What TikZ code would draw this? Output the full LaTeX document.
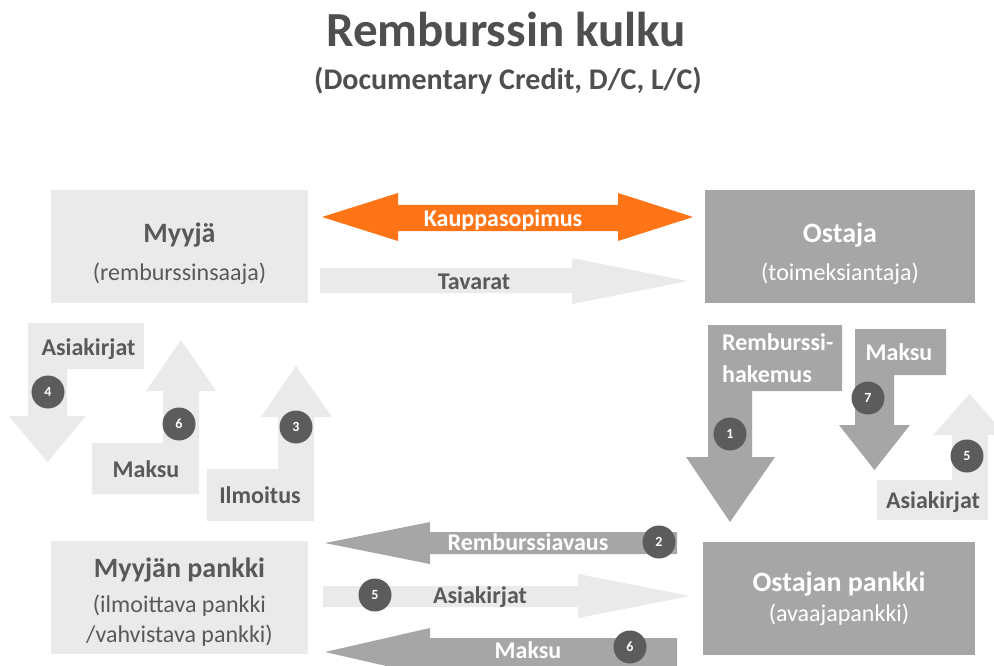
\documentclass[tikz,border=0pt]{standalone}
\usepackage{fontspec}
\setmainfont{Carlito}
\usetikzlibrary {positioning}
\definecolor{paleGray}{HTML}{EAEAEA}
\definecolor{midGray}{HTML}{A6A6A6}
\definecolor{inkGray}{HTML}{595959}
\definecolor{titleGray}{HTML}{4F4F4F}
\definecolor{dotGray}{HTML}{5C5C5C}
\definecolor{dealOrange}{HTML}{FF7417}
\tikzset{
boxP/.style={rectangle,inner sep=0pt,minimum width=257pt,minimum height=113pt,fill=paleGray}
}
\tikzset{
boxM/.style={rectangle,inner sep=0pt,minimum width=271pt,minimum height=113pt,fill=midGray}
}
\tikzset{
headD/.style={inner sep=0pt,anchor=base,text=inkGray,font=\bfseries\fontsize{28}{32}\selectfont},
headW/.style={headD,text=white}
}
\tikzset{
subD/.style={inner sep=0pt,anchor=base,text=inkGray,font=\fontsize{24}{30}\selectfont},
subW/.style={subD,text=white}
}
\tikzset{
lblD/.style={inner sep=0pt,anchor=base,text=inkGray,font=\bfseries\fontsize{24}{32}\selectfont},
lblW/.style={lblD,text=white}
}
\tikzset{
badge/.style={circle,fill=dotGray,minimum size=33pt,inner sep=0pt,text=white,font=\bfseries\fontsize{14}{16}\selectfont}
}

\begin{document}
\begin{tikzpicture}[x=1pt,y=-1pt]
\useasboundingbox (0,0) rectangle (994,666);
\clip (0,0) rectangle (994,666);

\node[inner sep=0pt,anchor=base,text=titleGray,font=\bfseries\fontsize{49}{54}\selectfont] (title) at (506,47) {Remburssin kulku};
\node[inner sep=0pt,anchor=base,text=titleGray,font=\bfseries\fontsize{30}{34}\selectfont] (subtitle) at (508,90) {(Documentary Credit, D/C, L/C)};
%------------------------------------------------------------------------------------------------------------%
\node[boxP] (myyja) at (179.5,246.5) {};
\node[headD] (myyjaA) at (myyja.center |- 0,242) {Myyjä};
\node[subD] (myyjaB) at (myyja.center |- 0,280) {(remburssinsaaja)};

\node[boxM,minimum width=270pt] (ostaja) at (840,246.5) {};
\node[headW] (ostajaA) at (ostaja.center |- 0,242) {Ostaja};
\node[subW] (ostajaB) at (ostaja.center |- 0,280) {(toimeksiantaja)};

\node[boxP] (myyjanPankki) at (179.5,597.5) {};
\node[headD] (myyjanPankkiA) at (myyjanPankki.center |- 0,577) {Myyjän pankki};
\node[subD] (myyjanPankkiB) at (myyjanPankki.center |- 0,612) {(ilmoittava pankki};
\node[subD] (myyjanPankkiC) at (myyjanPankki.center |- 0,642) {/vahvistava pankki)};

\node[boxM,minimum width=272pt] (ostajanPankki) at (839,598) {};
\node[headW] (ostajanPankkiA) at (ostajanPankki.center |- 0,591) {Ostajan pankki};
\node[subW] (ostajanPankkiB) at (ostajanPankki.center |- 0,621) {(avaajapankki)};
%------------------------------------------------------------------------------------------------------------%
\fill[dealOrange] (322,217) -- (398,193) -- (398,205) -- (618,205) -- (618,193) -- (693,217) -- (618,241) -- (618,231) -- (398,231) -- (398,241) -- cycle;
\node[lblW] (kauppa) at (503,226) {Kauppasopimus};

\fill[paleGray] (320,268) -- (572,268) -- (572,258) -- (688,281) -- (572,304) -- (572,293) -- (320,293) -- cycle;
\node[lblD] (tavarat) at (474,289) {Tavarat};
%------------------------------------------------------------------------------------------------------------%
\fill[paleGray] (28,323) -- (144,323) -- (144,369) -- (67,369) -- (67,416) -- (86,416) -- (47.5,462) -- (9,416) -- (28,416) -- cycle;
\node[lblD] (asiakirjatA) at (88.5,355) {Asiakirjat};
\node[badge] (b4) at (48,392) {4};

\fill[paleGray] (92,494) -- (92,443) -- (163,443) -- (163,391) -- (146,391) -- (181,340) -- (216,391) -- (199,391) -- (199,494) -- cycle;
\node[lblD] (maksuA) at (146,477) {Maksu};
\node[badge] (b6a) at (179,424) {6};

\fill[paleGray] (207,521) -- (207,469) -- (278,469) -- (278,417) -- (261,417) -- (296,366) -- (332,417) -- (314,417) -- (314,521) -- cycle;
\node[lblD] (ilmoitus) at (260,503) {Ilmoitus};
\node[badge] (b3) at (296,427) {3};
%------------------------------------------------------------------------------------------------------------%
\fill[midGray] (708,325) -- (842,325) -- (842,391) -- (752,391) -- (752,457) -- (775,457) -- (730,522) -- (686,457) -- (708,457) -- cycle;
\node[lblW,anchor=west,align=left] (hakemus) at (722,358) {Remburssi-\\hakemus};
\node[badge] (b1) at (730,434) {1};

\fill[midGray] (855,329) -- (946,329) -- (946,375) -- (894,375) -- (894,425) -- (910,425) -- (874.5,470) -- (839,425) -- (855,425) -- cycle;
\node[lblW] (maksuB) at (899,360) {Maksu};
\node[badge] (b7) at (868,398) {7};

\fill[paleGray] (877,520) -- (877,480) -- (952,480) -- (952,435) -- (933,435) -- (969.5,394) -- (1006,435) -- (988,435) -- (988,520) -- cycle;
\node[lblD] (asiakirjatB) at (933,508) {Asiakirjat};
\node[badge] (b5a) at (967,456) {5};
%------------------------------------------------------------------------------------------------------------%
\fill[midGray] (677,532) -- (430,532) -- (430,522) -- (325,543) -- (430,564) -- (430,554) -- (677,554) -- cycle;
\node[lblW] (avaus) at (528,550) {Remburssiavaus};
\node[badge] (b2) at (659,542) {2};

\fill[paleGray] (323,586) -- (578,586) -- (578,574) -- (690,596) -- (578,618) -- (578,607) -- (323,607) -- cycle;
\node[lblD] (asiakirjatC) at (480,603) {Asiakirjat};
\node[badge] (b5b) at (375,595) {5};

\fill[midGray] (677,638) -- (430,638) -- (430,628) -- (325,652) -- (430,676) -- (430,668) -- (677,668) -- cycle;
\node[lblW] (maksuC) at (528,658) {Maksu};
\node[badge] (b6b) at (630,647) {6};

\end{tikzpicture}
\end{document}
